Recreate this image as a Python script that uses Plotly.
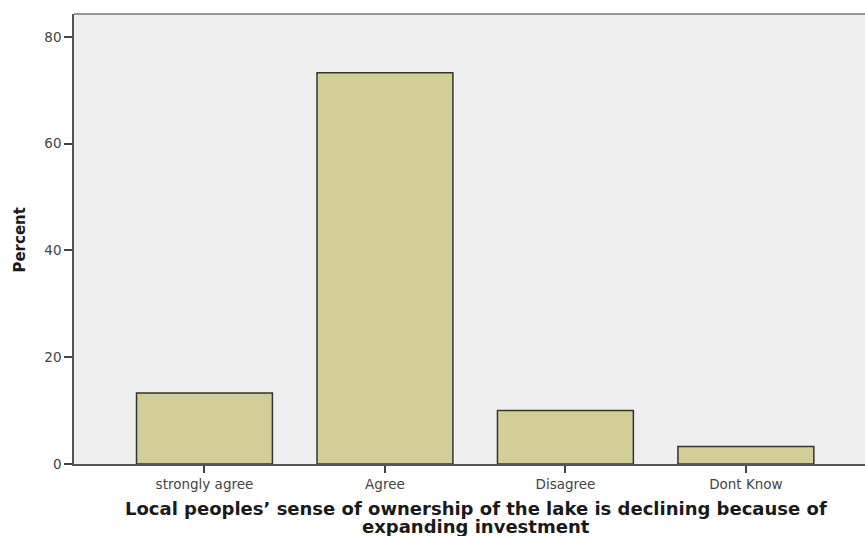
import plotly.graph_objects as go

categories = ["strongly agree", "Agree", "Disagree", "Dont Know"]
percent = [13.3, 73.3, 10.0, 3.3]
y_ticks = [0, 20, 40, 60, 80]
x_title_lines = ["Local peoples’ sense of ownership of the lake is declining because of",
                 "expanding investment"]
y_title = "Percent"

fig = go.Figure()
fig.add_trace(go.Bar(
    x=list(range(len(categories))), y=percent, width=0.753,
    marker=dict(color="#D3CE97", line=dict(color="#333333", width=1.5)),
))

W, H = 865, 536
L, R, T, B = 74, 0, 14, 72

fig.update_layout(
    width=W, height=H,
    margin=dict(l=L, r=R, t=T, b=B),
    paper_bgcolor="white", plot_bgcolor="#EFEFEF",
    showlegend=False,
    font=dict(family="'DejaVu Sans'", size=13.5, color="#444444"),
    xaxis=dict(
        range=[-0.723, 3.66], tickmode="array",
        tickvals=list(range(len(categories))), ticktext=categories,
        ticks="outside", ticklen=7, tickwidth=1.5, tickcolor="#444444",
        showline=True, linecolor="#555555", linewidth=1.5,
        showgrid=False, zeroline=False, mirror=False,
    ),
    yaxis=dict(
        range=[0, 84.3], tickmode="array", tickvals=y_ticks,
        ticks="outside", ticklen=8, tickwidth=1.5, tickcolor="#444444",
        showline=True, linecolor="#555555", linewidth=1.5,
        showgrid=False, zeroline=False,
    ),
    shapes=[dict(type="line", xref="paper", yref="paper", x0=0, x1=1, y0=1, y1=1,
                 line=dict(color="#777777", width=1.5))],
    annotations=[
        dict(text="<b>" + x_title_lines[0] + "</b>",
             xref="paper", yref="paper", x=0.5076, y=-0.0993, xanchor="center", yanchor="middle",
             showarrow=False, font=dict(family="'DejaVu Sans'", size=18, color="#1a1a1a")),
        dict(text="<b>" + x_title_lines[1] + "</b>",
             xref="paper", yref="paper", x=0.5076, y=-0.1393, xanchor="center", yanchor="middle",
             showarrow=False, font=dict(family="'DejaVu Sans'", size=18, color="#1a1a1a")),
        dict(text="<b>" + y_title + "</b>", textangle=-90,
             xref="paper", yref="paper", x=-0.068, y=0.497, xanchor="center", yanchor="middle",
             showarrow=False, font=dict(family="'DejaVu Sans'", size=15, color="#1a1a1a")),
    ],
)

fig.write_html("out.html", config={"displayModeBar": False},
               post_script="document.body.style.margin='0';document.body.style.padding='0';")
